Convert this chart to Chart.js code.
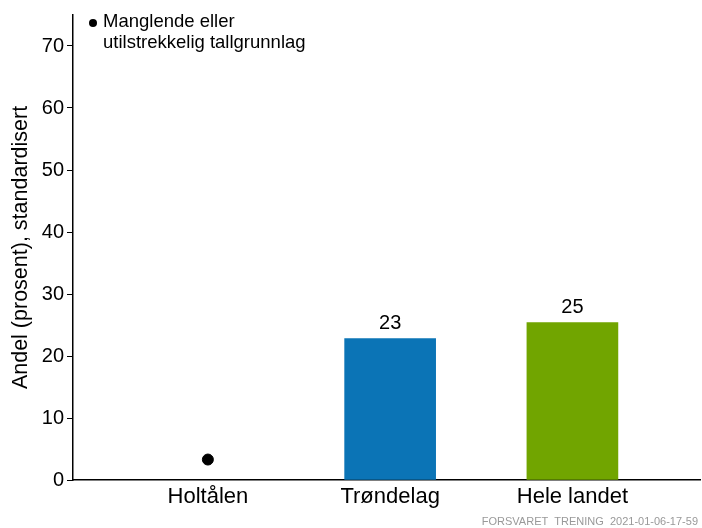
<!DOCTYPE html>
<html>
<head>
<meta charset="utf-8">
<script src="https://cdn.jsdelivr.net/npm/chart.js@4"></script>
<style>
  html, body { margin: 0; padding: 0; background: #fff; }
  #wrap { width: 702px; height: 528px; }
</style>
</head>
<body>
<div id="wrap"><canvas id="chart" width="702" height="528"></canvas></div>
<script>
// --- Data ---
const categories = ['Holtålen', 'Trøndelag', 'Hele landet'];
const barValues = [null, 22.8, 25.4];
const barLabels = ['', '23', '25'];
const barColors = ['#0b74b6', '#0b74b6', '#71a500'];
const missingIndex = [0];
const missingMarkY = 3.3;
const yTicks = [0, 10, 20, 30, 40, 50, 60, 70];
const yTitle = 'Andel (prosent), standardisert';
const legendLines = ['Manglende eller', 'utilstrekkelig tallgrunnlag'];
const footerText = 'FORSVARET  TRENING  2021-01-06-17-59';

const FONT = '"Liberation Sans", Arial, sans-serif';
Chart.defaults.font.family = FONT;
Chart.defaults.color = '#000';

// bar value labels above bars
const valueLabels = {
    id: 'valueLabels',
    afterDatasetsDraw(chart) {
        const ctx = chart.ctx;
        const meta = chart.getDatasetMeta(0);
        ctx.save();
        ctx.font = '20px ' + FONT;
        ctx.fillStyle = '#000';
        ctx.textAlign = 'center';
        ctx.textBaseline = 'alphabetic';
        meta.data.forEach((bar, i) => {
            if (!barLabels[i]) return;
            ctx.fillText(barLabels[i], bar.x, bar.y - 10);
        });
        ctx.restore();
    }
};

// legend note + footer
const notes = {
    id: 'notes',
    afterDraw(chart) {
        const ctx = chart.ctx;
        ctx.save();
        ctx.fillStyle = '#000';
        ctx.beginPath();
        ctx.arc(93, 23, 4, 0, Math.PI * 2);
        ctx.fill();
        ctx.font = '18.5px ' + FONT;
        ctx.textAlign = 'left';
        ctx.textBaseline = 'middle';
        ctx.fillText(legendLines[0], 103, 22);
        ctx.fillText(legendLines[1], 103, 43);

        ctx.font = '11px ' + FONT;
        ctx.fillStyle = '#999';
        ctx.textAlign = 'right';
        ctx.fillText(footerText, 698, 522);
        ctx.restore();
    }
};

new Chart(document.getElementById('chart').getContext('2d'), {
    type: 'bar',
    data: {
        datasets: [{
            label: 'Andel',
            data: barValues.map((v, i) => ({ x: i, y: v })),
            backgroundColor: barColors,
            barThickness: 91,
            order: 2
        }, {
            type: 'scatter',
            label: 'Manglende',
            data: missingIndex.map(i => ({ x: i, y: missingMarkY })),
            pointRadius: 5.5,
            pointBackgroundColor: '#000',
            pointBorderColor: '#000',
            order: 1
        }]
    },
    options: {
        responsive: false,
        animation: false,
        layout: { autoPadding: false, padding: { top: 13, right: 2, left: 0, bottom: 0 } },
        plugins: { legend: { display: false }, tooltip: { enabled: false } },
        scales: {
            x: {
                type: 'linear',
                min: -0.74,
                max: 2.70,
                offset: false,
                grid: { display: false, drawTicks: false },
                border: { display: true, color: '#000', width: 1.5 },
                afterBuildTicks: (scale) => { scale.ticks = categories.map((c, i) => ({ value: i })); },
                afterFit: (scale) => { scale.height = 48; },
                ticks: {
                    font: { size: 22 },
                    padding: 4,
                    autoSkip: false,
                    maxRotation: 0,
                    callback: (v) => categories[v]
                }
            },
            y: {
                min: 0,
                max: 75,
                grid: { drawOnChartArea: false, drawTicks: true, tickLength: 6, color: '#000', lineWidth: 1 },
                border: { display: true, color: '#000', width: 1.5 },
                afterBuildTicks: (scale) => { scale.ticks = yTicks.map(v => ({ value: v })); },
                afterFit: (scale) => { scale.width = 73; },
                ticks: { font: { size: 20 }, padding: 3 },
                title: { display: true, text: yTitle, font: { size: 21.5 }, padding: { top: 8, bottom: 0 } }
            }
        }
    },
    plugins: [valueLabels, notes]
});
</script>
</body>
</html>
